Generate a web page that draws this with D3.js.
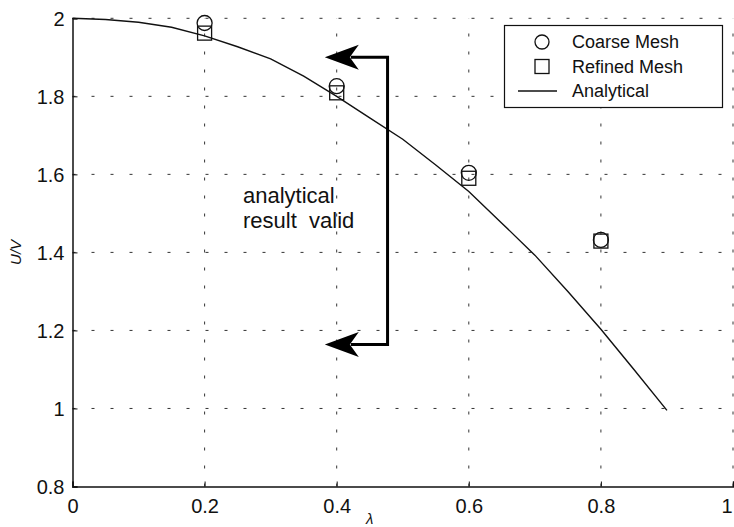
<!DOCTYPE html>
<html>
<head>
<meta charset="utf-8">
<script src="https://cdn.jsdelivr.net/npm/d3@7"></script>
<style>
  body { margin: 0; background: #fff; }
  svg { display: block; font-family: "Liberation Sans", Arial, Helvetica, sans-serif; }
</style>
</head>
<body>
<svg id="chart" width="734" height="527"></svg>
<script>
// data
const lambdaTicks = [0, 0.2, 0.4, 0.6, 0.8, 1];
const uvTicks = [0.8, 1, 1.2, 1.4, 1.6, 1.8, 2];

const meshLambda = [0.2, 0.4, 0.6, 0.8];
const coarseMesh = [1.988, 1.826, 1.604, 1.432];
const refinedMesh = [1.962, 1.809, 1.590, 1.429];

const analyticalLambda = [0, 0.05, 0.1, 0.15, 0.2, 0.25, 0.3, 0.35, 0.4, 0.45, 0.5, 0.55, 0.6, 0.65, 0.7, 0.75, 0.8, 0.85, 0.9];
const analyticalUV = [2.0, 1.997, 1.99, 1.977, 1.955, 1.927, 1.896, 1.852, 1.80, 1.745, 1.69, 1.624, 1.556, 1.475, 1.393, 1.30, 1.203, 1.10, 0.995];

// bracket annotation (data coords): vertical bar and arrow tips
const bracketX = 0.477;
const bracketY = [1.90, 1.164];
const arrowTipX = 0.382;
const noteLines = ['analytical', 'result  valid'];

const legendItems = ['Coarse Mesh', 'Refined Mesh', 'Analytical'];

const svg = d3.select('#chart');
const margin = { top: 18.3, right: 1, bottom: 40.5, left: 72.5 };
const width = 734;
const height = 527;

const x = d3.scaleLinear().domain([0, 1]).range([margin.left, width - margin.right]);
const y = d3.scaleLinear().domain([0.8, 2]).range([height - margin.bottom, margin.top]);

const grid = svg.append('g').attr('class', 'grid');

// dotted grid lines
grid.selectAll('line.vgrid')
  .data(lambdaTicks.filter((d) => d > 0))
  .enter()
  .append('line')
  .attr('x1', (d) => x(d))
  .attr('x2', (d) => x(d))
  .attr('y1', y(0.8))
  .attr('y2', y(2))
  .attr('stroke', '#333')
  .attr('stroke-width', 1)
  .attr('stroke-dasharray', '3,15');

grid.selectAll('line.hgrid')
  .data(uvTicks.filter((d) => d > 0.8))
  .enter()
  .append('line')
  .attr('x1', x(0))
  .attr('x2', x(1))
  .attr('y1', (d) => y(d))
  .attr('y2', (d) => y(d))
  .attr('stroke', '#333')
  .attr('stroke-width', 1)
  .attr('stroke-dasharray', '3,16');

// axes with inward ticks
const xAxis = d3.axisBottom(x).tickValues(lambdaTicks).tickSize(-5).tickPadding(8)
  .tickFormat((d) => (d === 0 || d === 1 ? d3.format('d')(d) : d3.format('.1f')(d)));
const yAxis = d3.axisLeft(y).tickValues(uvTicks).tickSize(-5).tickPadding(8)
  .tickFormat((d) => (Number.isInteger(d) ? d3.format('d')(d) : d3.format('.1f')(d)));

const gx = svg.append('g')
  .attr('transform', `translate(0,${y(0.8)})`)
  .call(xAxis);
const gy = svg.append('g')
  .attr('transform', `translate(${x(0)},0)`)
  .call(yAxis);

[gx, gy].forEach((g) => {
  g.select('.domain').attr('stroke', '#111').attr('stroke-width', 1.5);
  g.selectAll('.tick line').attr('stroke', '#111');
  g.selectAll('.tick text')
    .attr('fill', '#111')
    .style('font-size', '20px')
    .style('font-family', '"Liberation Sans", Arial, sans-serif');
});
gx.selectAll('.tick text').attr('dy', '0.9em');
gy.selectAll('.tick text').attr('dy', '0.36em');
// last x label sits against the right edge
gx.selectAll('.tick text').filter((d) => d === 1).attr('text-anchor', 'end').attr('x', -1);

// axis labels
svg.append('text')
  .attr('x', x(0.45))
  .attr('y', 524)
  .attr('text-anchor', 'middle')
  .style('font-size', '15px')
  .style('font-style', 'italic')
  .attr('fill', '#111')
  .text('λ');

svg.append('text')
  .attr('transform', `translate(21,${y(1.4)}) rotate(-90)`)
  .attr('text-anchor', 'middle')
  .style('font-size', '15px')
  .style('font-style', 'italic')
  .attr('fill', '#111')
  .text('U/V');

// analytical curve
const line = d3.line()
  .x((d, i) => x(analyticalLambda[i]))
  .y((d) => y(d));

svg.append('path')
  .datum(analyticalUV)
  .attr('d', line)
  .attr('fill', 'none')
  .attr('stroke', '#111')
  .attr('stroke-width', 1.4);

// markers
svg.selectAll('circle.coarse')
  .data(coarseMesh)
  .enter()
  .append('circle')
  .attr('cx', (d, i) => x(meshLambda[i]))
  .attr('cy', (d) => y(d))
  .attr('r', 7.5)
  .attr('fill', 'none')
  .attr('stroke', '#111')
  .attr('stroke-width', 1.3);

svg.selectAll('rect.refined')
  .data(refinedMesh)
  .enter()
  .append('rect')
  .attr('x', (d, i) => x(meshLambda[i]) - 7)
  .attr('y', (d) => y(d) - 7)
  .attr('width', 14)
  .attr('height', 14)
  .attr('fill', 'none')
  .attr('stroke', '#111')
  .attr('stroke-width', 1.3);

// bracket with arrows
const bracket = svg.append('g').attr('class', 'bracket');
bracket.append('path')
  .attr('d', `M${x(arrowTipX) + 26},${y(bracketY[0])}H${x(bracketX)}V${y(bracketY[1])}H${x(arrowTipX) + 26}`)
  .attr('fill', 'none')
  .attr('stroke', '#000')
  .attr('stroke-width', 3);

bracket.selectAll('path.head')
  .data(bracketY)
  .enter()
  .append('path')
  .attr('d', (d) => {
    const tx = x(arrowTipX);
    const ty = y(d);
    return `M${tx},${ty}L${tx + 34},${ty - 12.5}L${tx + 25},${ty}L${tx + 34},${ty + 12.5}Z`;
  })
  .attr('fill', '#000');

svg.selectAll('text.note')
  .data(noteLines)
  .enter()
  .append('text')
  .attr('x', 243)
  .attr('y', (d, i) => 203 + i * 25)
  .style('font-size', '22px')
  .style('white-space', 'pre')
  .attr('xml:space', 'preserve')
  .attr('fill', '#111')
  .text((d) => d);

// legend
const legend = svg.append('g').attr('class', 'legend');
legend.append('rect')
  .attr('x', 504.5)
  .attr('y', 25.5)
  .attr('width', 218)
  .attr('height', 82)
  .attr('fill', '#fff')
  .attr('stroke', '#111')
  .attr('stroke-width', 1.2);

const rowY = (i) => 42 + i * 24.5;

legend.append('circle')
  .attr('cx', 542)
  .attr('cy', rowY(0))
  .attr('r', 7)
  .attr('fill', 'none')
  .attr('stroke', '#111')
  .attr('stroke-width', 1.3);

legend.append('rect')
  .attr('x', 535)
  .attr('y', rowY(1) - 7)
  .attr('width', 14)
  .attr('height', 14)
  .attr('fill', 'none')
  .attr('stroke', '#111')
  .attr('stroke-width', 1.3);

legend.append('line')
  .attr('x1', 518)
  .attr('x2', 557)
  .attr('y1', rowY(2))
  .attr('y2', rowY(2))
  .attr('stroke', '#111')
  .attr('stroke-width', 1.3);

legend.selectAll('text')
  .data(legendItems)
  .enter()
  .append('text')
  .attr('x', 572)
  .attr('y', (d, i) => rowY(i))
  .attr('dy', '0.36em')
  .style('font-size', '18px')
  .attr('fill', '#111')
  .text((d) => d);
</script>
</body>
</html>
